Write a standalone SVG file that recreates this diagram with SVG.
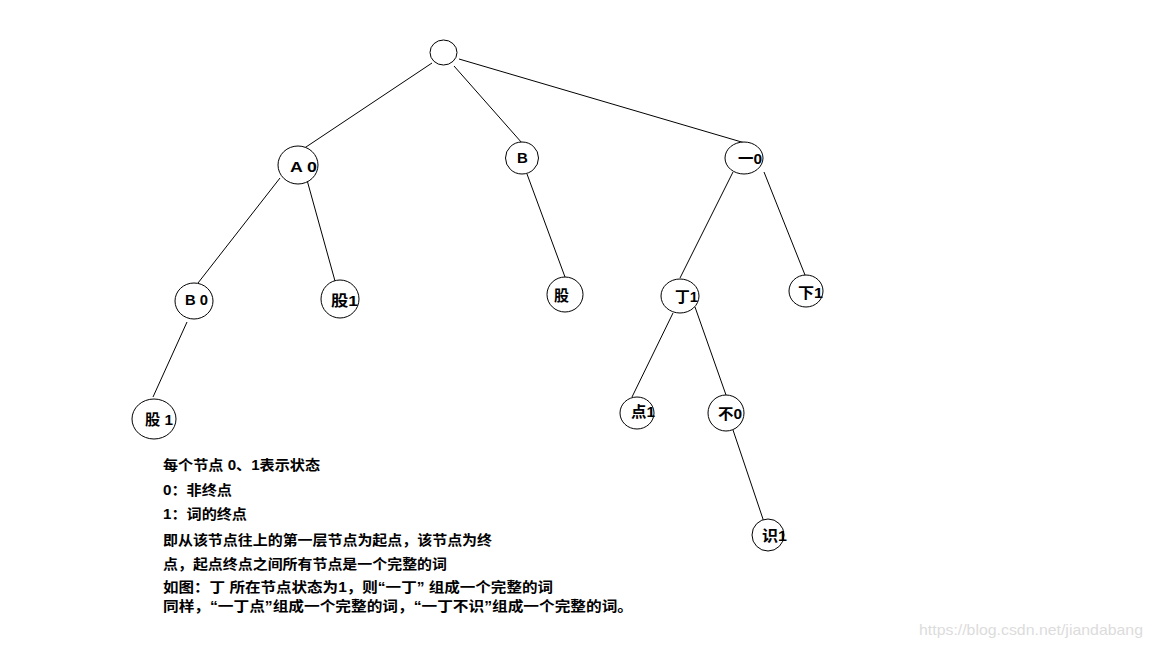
<svg xmlns="http://www.w3.org/2000/svg" width="1152" height="648" viewBox="0 0 1152 648">
<style>
.n{fill:#fff;stroke:#000;stroke-width:1}
.c{stroke:#000;stroke-width:1;fill:none}
.t{font-family:"Liberation Sans","Noto Sans CJK SC",sans-serif;font-weight:bold;font-size:15px;fill:#000}
.d{font-family:"Liberation Sans","Noto Sans CJK SC",sans-serif;font-weight:bold;font-size:14px;fill:#000}
.w{font-family:"Liberation Sans",Arial,sans-serif;font-size:15px;fill:#dcdcdc}
</style>
<rect width="1152" height="648" fill="#fff"/>
<g id="connectors">
<line class="c" x1="432" y1="63" x2="300" y2="151"/>
<line class="c" x1="454" y1="66" x2="522" y2="143"/>
<line class="c" x1="459" y1="59" x2="745" y2="143"/>
<line class="c" x1="280" y1="178" x2="198" y2="283"/>
<line class="c" x1="307" y1="180" x2="335" y2="281"/>
<line class="c" x1="187" y1="322" x2="153" y2="397"/>
<line class="c" x1="527" y1="174" x2="565" y2="277"/>
<line class="c" x1="733" y1="172" x2="680" y2="278"/>
<line class="c" x1="764" y1="172" x2="805" y2="275"/>
<line class="c" x1="673" y1="313" x2="632" y2="397"/>
<line class="c" x1="695" y1="307" x2="726" y2="395"/>
<line class="c" x1="733" y1="430" x2="765" y2="525"/>
</g>
<g id="root"><ellipse class="n" cx="443.5" cy="52.5" rx="13.5" ry="12.5"/></g>
<g id="nA"><ellipse class="n" cx="298" cy="165" rx="20" ry="19"/><text class="t" x="290" y="172" textLength="27" lengthAdjust="spacingAndGlyphs">A 0</text></g>
<g id="nB"><ellipse class="n" cx="522" cy="158" rx="16.5" ry="16"/><text class="t" x="517" y="163">B</text></g>
<g id="nYi"><ellipse class="n" cx="744" cy="158" rx="19" ry="16"/><text class="t" x="738" y="164" textLength="24" lengthAdjust="spacingAndGlyphs">一0</text></g>
<g id="nB0"><ellipse class="n" cx="194" cy="301" rx="19" ry="18"/><text class="t" x="185" y="305" textLength="23" lengthAdjust="spacingAndGlyphs">B 0</text></g>
<g id="nGu1a"><ellipse class="n" cx="340" cy="299" rx="19" ry="19"/><text class="t" x="331" y="306" textLength="27" lengthAdjust="spacingAndGlyphs">股1</text></g>
<g id="nGu1b"><ellipse class="n" cx="154" cy="419" rx="22" ry="20"/><text class="t" x="145" y="425" textLength="28" lengthAdjust="spacingAndGlyphs">股 1</text></g>
<g id="nGu"><ellipse class="n" cx="565" cy="294.5" rx="18" ry="17.5"/><text class="t" x="554" y="301">股</text></g>
<g id="nDing"><ellipse class="n" cx="680" cy="296" rx="19" ry="17"/><text class="t" x="675" y="302" textLength="23" lengthAdjust="spacingAndGlyphs">丁1</text></g>
<g id="nXia"><ellipse class="n" cx="806" cy="291" rx="17" ry="16"/><text class="t" x="798" y="298" textLength="25" lengthAdjust="spacingAndGlyphs">下1</text></g>
<g id="nDian"><ellipse class="n" cx="637" cy="413" rx="17" ry="16"/><text class="t" x="631" y="417" textLength="24" lengthAdjust="spacingAndGlyphs">点1</text></g>
<g id="nBu"><ellipse class="n" cx="726" cy="413" rx="18" ry="18"/><text class="t" x="718" y="419" textLength="24" lengthAdjust="spacingAndGlyphs">不0</text></g>
<g id="nShi"><ellipse class="n" cx="768" cy="535" rx="16" ry="16"/><text class="t" x="762" y="541" textLength="25" lengthAdjust="spacingAndGlyphs">识1</text></g>
<g id="notes">
<text class="d" x="163" y="470" textLength="157" lengthAdjust="spacingAndGlyphs">每个节点 0、1表示状态</text>
<text class="d" x="163" y="495" textLength="69" lengthAdjust="spacingAndGlyphs">0：非终点</text>
<text class="d" x="163" y="519" textLength="84" lengthAdjust="spacingAndGlyphs">1：词的终点</text>
<text class="d" x="163" y="545" textLength="329" lengthAdjust="spacingAndGlyphs">即从该节点往上的第一层节点为起点，该节点为终</text>
<text class="d" x="163" y="569" textLength="284" lengthAdjust="spacingAndGlyphs">点，起点终点之间所有节点是一个完整的词</text>
<text class="d" x="163" y="592" textLength="390" lengthAdjust="spacingAndGlyphs">如图：丁 所在节点状态为1，则“一丁” 组成一个完整的词</text>
<text class="d" x="163" y="611" textLength="470" lengthAdjust="spacingAndGlyphs">同样，“一丁点”组成一个完整的词，“一丁不识”组成一个完整的词。</text>
</g>
<text class="w" x="919" y="635" textLength="224" lengthAdjust="spacingAndGlyphs">https://blog.csdn.net/jiandabang</text>
</svg>
